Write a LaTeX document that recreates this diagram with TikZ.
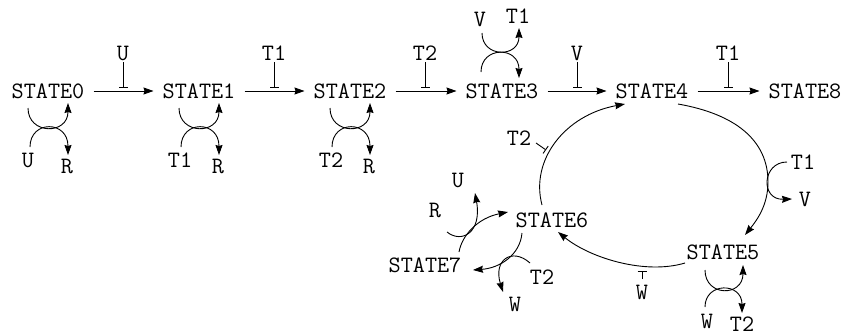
\documentclass[tikz,border=0pt]{standalone}
\usepackage{fontspec}
\usetikzlibrary{arrows.meta,calc}
\begin{document}
\begin{tikzpicture}[x=1pt,y=-1pt,
  every node/.style={font=\fontsize{23.5}{26}\ttfamily},
  st/.style={inner xsep=9pt, inner ysep=4pt},
  lab/.style={inner sep=1.5pt},
  arr/.style={line width=0.9pt, -{Stealth[length=10pt,width=7pt,inset=1pt]}},
  inh/.style={line width=0.9pt, -{Bar[width=9pt,line width=0.9pt]}}]
\useasboundingbox (0,0) rectangle (845,335);

% states
\node[st] (s0) at (48,91) {STATE0};
\node[st] (s1) at (199,91) {STATE1};
\node[st] (s2) at (350,91) {STATE2};
\node[st] (s3) at (502,91) {STATE3};
\node[st] (s4) at (652,91) {STATE4};
\node[st] (s8) at (805,91) {STATE8};
\node[st] (s5) at (723,252) {STATE5};
\node[st] (s6) at (552,220) {STATE6};
\node[st] (s7) at (425,265) {STATE7};

% horizontal transitions
\draw[arr] (s0) -- (s1);
\draw[arr] (s1) -- (s2);
\draw[arr] (s2) -- (s3);
\draw[arr] (s3) -- (s4);
\draw[arr] (s4) -- (s8);

% inhibitors above
\node[lab] (i01) at (123,53) {U};
\node[lab] (i12) at (274,53) {T1};
\node[lab] (i23) at (425,53) {T2};
\node[lab] (i34) at (577,53) {V};
\node[lab] (i48) at (728,53) {T1};
\draw[inh] (i01) -- ($(i01 |- s0)+(0,-3)$);
\draw[inh] (i12) -- ($(i12 |- s0)+(0,-3)$);
\draw[inh] (i23) -- ($(i23 |- s0)+(0,-3)$);
\draw[inh] (i34) -- ($(i34 |- s0)+(0,-3)$);
\draw[inh] (i48) -- ($(i48 |- s0)+(0,-3)$);

% crossings under STATE0, STATE1, STATE2
\node[lab] (a0) at (28,160) {U};
\node[lab] (b0) at (67,166) {R};
\node[lab] (a1) at (180,160) {T1};
\node[lab] (b1) at (218,166) {R};
\node[lab] (a2) at (331,160) {T2};
\node[lab] (b2) at (369,166) {R};
\foreach \s/\a/\b in {s0/a0/b0, s1/a1/b1, s2/a2/b2}{
  \draw[arr] ($(\s)+(-20,17)$) .. controls ($(\s)+(-20,44)$) and ($(\s)+(20,44)$) .. ($(\s)+(20,12)$);
  \draw[arr] ($(\s)+(-18,56)$) .. controls ($(\s)+(-18,29)$) and ($(\s)+(20,29)$) .. ($(\s)+(20,64)$);
}

% crossing above STATE3
\node[lab] (c3) at (480,19) {V};
\node[lab] (d3) at (518,16) {T1};
\draw[arr] ($(c3)+(2,14)$) .. controls ($(c3)+(2,39)$) and ($(d3)+(1,42)$) .. ($(d3)+(1,12)$);
\draw[arr] ($(s3)+(-21,-19)$) .. controls ($(s3)+(-21,-45)$) and ($(s3)+(17,-45)$) .. ($(s3)+(17,-13)$);

% STATE4 -> STATE5
\coordinate (e1) at (768,182);
\draw[arr] ($(s4)+(26,13)$) .. controls (735,114) and (768,140) .. (e1)
  .. controls (768,205) and (757,220) .. ($(s5)+(22,-17)$);
\node[lab] (t14) at (803,162) {T1};
\node[lab] (v14) at (805,199) {V};
\draw[arr] ($(t14)+(-16,0)$) .. controls (762,162) and (760,200) .. ($(v14)+(-13,0)$);

% crossing under STATE5
\node[lab] (w5) at (707,321) {W};
\node[lab] (t5) at (742,324) {T2};
\draw[arr] ($(s5)+(-18,18)$) .. controls ($(s5)+(-18,45)$) and ($(s5)+(20,45)$) .. ($(s5)+(20,13)$);
\draw[arr] ($(w5)+(-2,-14)$) .. controls ($(w5)+(-2,-39)$) and ($(t5)+(0,-42)$) .. ($(t5)+(0,-11)$);

% STATE5 -> STATE6
\draw[arr] ($(s5)+(-38,11)$) .. controls (645,275) and (590,258) .. ($(s6)+(6,12)$);
\node[lab] (w56) at (642,292) {W};
\coordinate (k56) at (642,271);
\draw[inh, shorten <=4pt] (w56) -- (k56);

% STATE6 -> STATE4
\draw[arr] ($(s6)+(-10,-15)$) .. controls (530,160) and (565,115) .. ($(s4)+(-27,13)$);
\node[lab] (t64) at (519,138) {T2};
\coordinate (k64) at (546,150);
\draw[inh] ($(t64)+(17,5)$) -- (k64);

% STATE6 -> STATE7
\draw[arr] ($(s6)+(-30,13)$) .. controls (520,255) and (500,268) .. ($(s7)+(48,5)$);
\node[lab] (t67) at (542,277) {T2};
\node[lab] (w67) at (515,304) {W};
\draw[arr] ($(t67)+(-12,-14)$) .. controls (512,247) and (493,260) .. ($(w67)+(-12,-12)$);

% STATE7 -> STATE6
\draw[arr] ($(s7)+(34,-13)$) .. controls (462,235) and (478,218) .. ($(s6)+(-44,-8)$);
\node[lab] (r76) at (435,210) {R};
\node[lab] (u76) at (458,180) {U};
\draw[arr] ($(r76)+(12,22)$) .. controls (462,244) and (482,232) .. ($(u76)+(17,13)$);

\end{tikzpicture}
\end{document}
